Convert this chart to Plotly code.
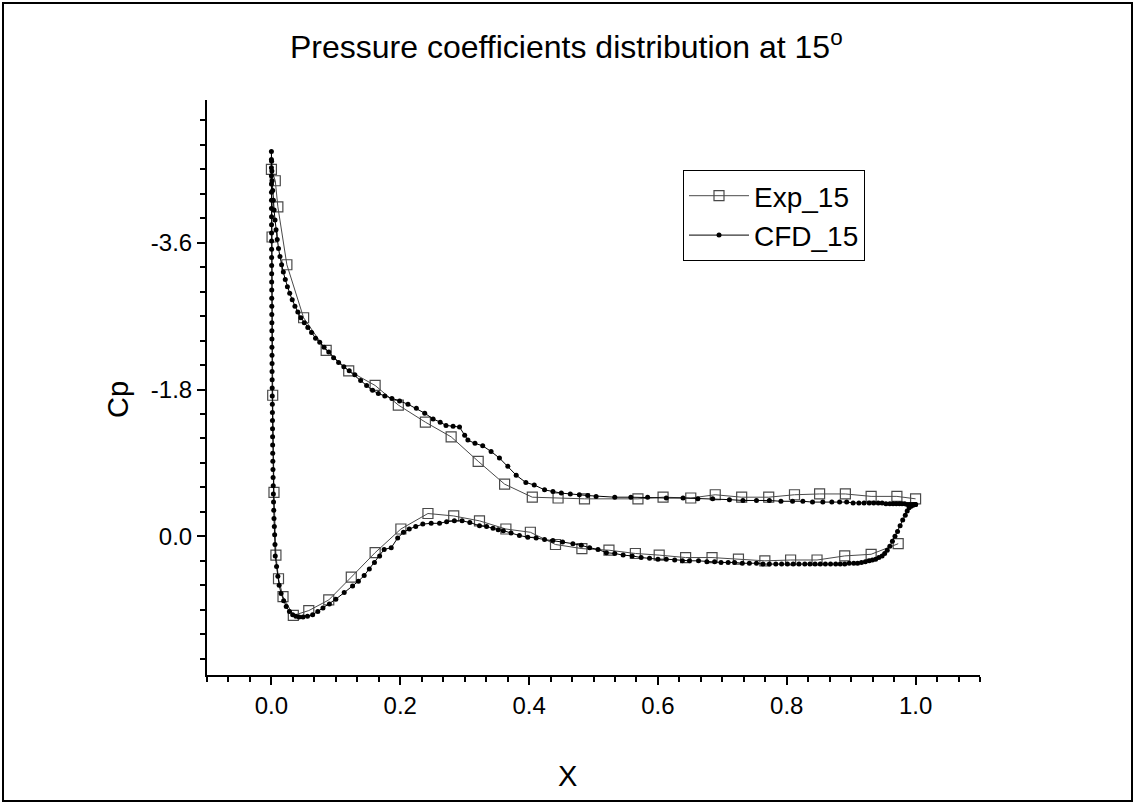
import plotly.graph_objects as go

# ---------------- data ----------------
# Experimental (upper surface, leading edge -> trailing edge)
exp_up_x = [0.000, 0.006, 0.010, 0.024, 0.050, 0.085, 0.120, 0.161, 0.197, 0.239, 0.279, 0.321,
            0.362, 0.405, 0.445, 0.486, 0.569, 0.608, 0.651, 0.689, 0.730, 0.772, 0.812, 0.851,
            0.891, 0.931, 0.971, 1.000]
exp_up_cp = [-4.50, -4.36, -4.04, -3.33, -2.68, -2.28, -2.03, -1.85, -1.61, -1.40, -1.22, -0.92,
             -0.64, -0.48, -0.47, -0.46, -0.46, -0.48, -0.47, -0.51, -0.48, -0.48, -0.51, -0.52,
             -0.52, -0.49, -0.49, -0.46]
# Experimental (lower surface, leading edge -> trailing edge)
exp_lo_x = [0.001, 0.002, 0.004, 0.007, 0.011, 0.018, 0.034, 0.058, 0.089, 0.124, 0.161, 0.201,
            0.243, 0.283, 0.323, 0.364, 0.402, 0.441, 0.482, 0.524, 0.565, 0.602, 0.643, 0.684,
            0.725, 0.766, 0.806, 0.847, 0.890, 0.931, 0.973]
exp_lo_cp = [-3.67, -1.73, -0.54, 0.23, 0.52, 0.74, 0.97, 0.91, 0.78, 0.50, 0.20, -0.09,
             -0.28, -0.25, -0.19, -0.09, -0.05, 0.10, 0.15, 0.17, 0.21, 0.23, 0.26, 0.26,
             0.28, 0.30, 0.29, 0.29, 0.24, 0.22, 0.09]

# CFD (upper surface, leading edge -> trailing edge)
cfd_up_x = [0.0000, 0.0003, 0.0007, 0.0012, 0.0020, 0.0030, 0.0042, 0.0056, 0.0072, 0.0090,
            0.0110, 0.0133, 0.0158, 0.0185, 0.0215, 0.0248, 0.0284, 0.0323, 0.0365, 0.0410,
            0.0458, 0.0510, 0.0565, 0.0623, 0.0685, 0.0750, 0.0818, 0.0890, 0.0965, 0.1043,
            0.1124, 0.1208, 0.1295, 0.1385, 0.1478, 0.157, 0.166, 0.176, 0.187, 0.199,
            0.212, 0.225, 0.238, 0.251, 0.262, 0.271, 0.282, 0.292, 0.300, 0.305,
            0.316, 0.328, 0.341, 0.354, 0.367, 0.380, 0.395, 0.408, 0.424, 0.437,
            0.450, 0.464, 0.478, 0.491, 0.504, 0.533, 0.558, 0.584, 0.613, 0.639,
            0.662, 0.685, 0.711, 0.732, 0.753, 0.773, 0.791, 0.809, 0.825, 0.840,
            0.856, 0.870, 0.882, 0.893, 0.903, 0.912, 0.920, 0.928, 0.935, 0.942,
            0.948, 0.954, 0.960, 0.965, 0.970, 0.975, 0.979, 0.983, 0.987, 0.990,
            0.993, 0.996, 0.998, 1.000]
cfd_up_cp = [-4.72, -4.60, -4.48, -4.36, -4.24, -4.12, -4.00, -3.88, -3.76, -3.64,
             -3.53, -3.43, -3.33, -3.24, -3.15, -3.06, -2.98, -2.90, -2.82, -2.75,
             -2.68, -2.62, -2.56, -2.50, -2.43, -2.38, -2.32, -2.26, -2.19, -2.13,
             -2.08, -2.03, -1.98, -1.91, -1.85, -1.79, -1.75, -1.72, -1.69, -1.66,
             -1.62, -1.57, -1.51, -1.44, -1.40, -1.36, -1.35, -1.34, -1.24, -1.18,
             -1.14, -1.11, -1.04, -0.96, -0.86, -0.75, -0.66, -0.63, -0.57, -0.55,
             -0.53, -0.52, -0.51, -0.50, -0.49, -0.48, -0.48, -0.48, -0.47, -0.47,
             -0.46, -0.46, -0.45, -0.44, -0.44, -0.44, -0.43, -0.43, -0.43, -0.42,
             -0.42, -0.42, -0.42, -0.42, -0.41, -0.41, -0.41, -0.41, -0.41, -0.41,
             -0.41, -0.40, -0.40, -0.40, -0.40, -0.40, -0.40, -0.40, -0.39, -0.39,
             -0.39, -0.39, -0.39, -0.39]

# CFD (lower surface, leading edge -> trailing edge)
cfd_lo_x = [0.0000, 0.0000, 0.0000, 0.0001, 0.0001, 0.0001, 0.0001, 0.0002, 0.0002, 0.0002,
            0.0003, 0.0003, 0.0003, 0.0004, 0.0004, 0.0004, 0.0005, 0.0005, 0.0006, 0.0006,
            0.0007, 0.0007, 0.0008, 0.0008, 0.0009, 0.0010, 0.0010, 0.0011, 0.0012, 0.0013,
            0.0014, 0.0015, 0.0016, 0.0017, 0.0018, 0.0019, 0.0020, 0.0022, 0.0024, 0.0026,
            0.0028, 0.0030, 0.0033, 0.0036, 0.0040, 0.0045, 0.0050, 0.0055,
            0.006, 0.008, 0.010, 0.012, 0.015, 0.019, 0.023, 0.028, 0.033, 0.038,
            0.043, 0.049, 0.056, 0.064, 0.072, 0.080, 0.090, 0.100, 0.113, 0.126,
            0.135, 0.144, 0.152, 0.160, 0.168, 0.175, 0.186, 0.196, 0.205, 0.214,
            0.224, 0.235, 0.248, 0.261, 0.272, 0.284, 0.296, 0.308, 0.323, 0.334,
            0.344, 0.352, 0.360, 0.372, 0.385, 0.398, 0.411, 0.424, 0.437, 0.452,
            0.468, 0.481, 0.494, 0.507, 0.520, 0.533, 0.546, 0.560, 0.574, 0.587,
            0.600, 0.613, 0.626, 0.638, 0.649, 0.663, 0.676, 0.688, 0.698, 0.709,
            0.719, 0.731, 0.742, 0.753, 0.763, 0.773, 0.783, 0.792, 0.801, 0.810,
            0.819, 0.828, 0.836, 0.844, 0.852, 0.860, 0.868, 0.876, 0.883, 0.890,
            0.897, 0.904, 0.910, 0.916, 0.922, 0.928, 0.933, 0.938, 0.943, 0.948,
            0.952, 0.956, 0.960, 0.964, 0.968, 0.972, 0.976, 0.980, 0.984, 0.987,
            0.990, 0.993, 0.996, 0.998, 1.000]
cfd_lo_cp = [-4.62, -4.52, -4.42, -4.32, -4.22, -4.12, -4.02, -3.92, -3.82, -3.72,
             -3.62, -3.52, -3.42, -3.32, -3.22, -3.12, -3.02, -2.92, -2.82, -2.72,
             -2.62, -2.52, -2.42, -2.32, -2.22, -2.12, -2.02, -1.92, -1.82, -1.72,
             -1.62, -1.52, -1.42, -1.32, -1.22, -1.12, -1.02, -0.92, -0.82, -0.72,
             -0.62, -0.52, -0.42, -0.32, -0.22, -0.12, -0.02, 0.10,
             0.24, 0.37, 0.49, 0.60, 0.70, 0.79, 0.86, 0.92, 0.96, 0.98,
             0.99, 0.99, 0.98, 0.96, 0.92, 0.88, 0.83, 0.77, 0.69, 0.61,
             0.55, 0.48, 0.40, 0.32, 0.24, 0.16, 0.14, 0.02, -0.05, -0.09,
             -0.12, -0.15, -0.16, -0.16, -0.18, -0.19, -0.19, -0.17, -0.13, -0.12,
             -0.10, -0.08, -0.07, -0.04, -0.01, 0.01, 0.02, 0.04, 0.05, 0.07,
             0.09, 0.11, 0.14, 0.16, 0.20, 0.21, 0.23, 0.24, 0.26, 0.27,
             0.28, 0.28, 0.29, 0.30, 0.30, 0.30, 0.31, 0.31, 0.32, 0.32,
             0.32, 0.33, 0.33, 0.33, 0.34, 0.34, 0.34, 0.34, 0.34, 0.34,
             0.34, 0.34, 0.34, 0.34, 0.34, 0.34, 0.34, 0.34, 0.34, 0.34,
             0.33, 0.33, 0.33, 0.32, 0.31, 0.30, 0.29, 0.28, 0.26, 0.24,
             0.21, 0.17, 0.12, 0.06, 0.00, -0.06, -0.13, -0.20, -0.26, -0.31,
             -0.35, -0.37, -0.38, -0.39, -0.39]

x_tick_vals = [0.0, 0.2, 0.4, 0.6, 0.8, 1.0]
x_tick_text = ["0.0", "0.2", "0.4", "0.6", "0.8", "1.0"]
y_tick_vals = [-3.6, -1.8, 0.0]
y_tick_text = ["-3.6", "-1.8", "0.0"]

# ---------------- figure ----------------
W, H = 1135, 804
L, R, T, B = 207, 155, 100, 129   # plot area: x 207..980, y 100..675
pw, ph = W - L - R, H - T - B

def px_to_paper(px, py):
    return (px - L) / pw, (H - B - py) / ph

FONT = "Liberation Sans, Arial, sans-serif"

exp_x = exp_up_x[::-1] + exp_lo_x
exp_y = exp_up_cp[::-1] + exp_lo_cp
cfd_x = cfd_up_x[::-1] + cfd_lo_x
cfd_y = cfd_up_cp[::-1] + cfd_lo_cp

fig = go.Figure()
fig.add_trace(go.Scatter(
    x=exp_x, y=exp_y, mode="lines+markers", name="Exp_15",
    line=dict(color="#4a4a4a", width=1),
    marker=dict(symbol="square-open", size=10, color="#4a4a4a", line=dict(width=1.2)),
))
fig.add_trace(go.Scatter(
    x=cfd_x, y=cfd_y, mode="lines+markers", name="CFD_15",
    line=dict(color="black", width=1),
    marker=dict(symbol="circle", size=5, color="black"),
))

fig.update_xaxes(
    range=[-0.1, 1.1], tickmode="array", tickvals=x_tick_vals, ticktext=x_tick_text,
    ticks="outside", ticklen=8, tickwidth=2, tickcolor="black",
    showline=True, linewidth=2, linecolor="black", showgrid=False, zeroline=False,
    tickfont=dict(family=FONT, size=24, color="black"),
    minor=dict(tickmode="linear", tick0=0, dtick=0.2 / 6, ticks="outside", ticklen=5,
               tickwidth=1.5, tickcolor="black", showgrid=False),
)
fig.update_yaxes(
    range=[1.7, -5.35], tickmode="array", tickvals=y_tick_vals, ticktext=y_tick_text,
    ticks="outside", ticklen=8, tickwidth=2, tickcolor="black",
    showline=True, linewidth=2, linecolor="black", showgrid=False, zeroline=False,
    tickfont=dict(family=FONT, size=24, color="black"),
    minor=dict(tickmode="linear", tick0=0, dtick=0.3, ticks="outside", ticklen=5,
               tickwidth=1.5, tickcolor="black", showgrid=False),
)

tx, ty = px_to_paper(566, 45)
xx, xy = px_to_paper(567, 776)
cx, cy = px_to_paper(118, 400)
annotations = [
    dict(text="Pressure coefficients distribution at 15<sup>o</sup>", x=tx, y=ty,
         xref="paper", yref="paper", showarrow=False, xanchor="center", yanchor="middle",
         font=dict(family=FONT, size=32, color="black")),
    dict(text="X", x=xx, y=xy, xref="paper", yref="paper", showarrow=False,
         xanchor="center", yanchor="middle", font=dict(family=FONT, size=29, color="black")),
    dict(text="Cp", x=cx, y=cy, xref="paper", yref="paper", showarrow=False, textangle=-90,
         xanchor="center", yanchor="middle", font=dict(family=FONT, size=29, color="black")),
]

fx0, fy0 = px_to_paper(3, 801)
fx1, fy1 = px_to_paper(1132, 3)
lx, ly = px_to_paper(683, 170)

fig.update_layout(
    width=W, height=H,
    margin=dict(l=L, r=R, t=T, b=B, pad=0),
    paper_bgcolor="white", plot_bgcolor="white",
    showlegend=True,
    legend=dict(x=lx, y=ly, xanchor="left", yanchor="top",
                bordercolor="black", borderwidth=1, bgcolor="white",
                font=dict(family=FONT, size=28, color="black"),
                itemwidth=60, tracegroupgap=0),
    annotations=annotations,
    shapes=[dict(type="rect", xref="paper", yref="paper", x0=fx0, y0=fy0, x1=fx1, y1=fy1,
                 line=dict(color="black", width=2), fillcolor="rgba(0,0,0,0)", layer="above")],
)

fig.write_html("out.html")
